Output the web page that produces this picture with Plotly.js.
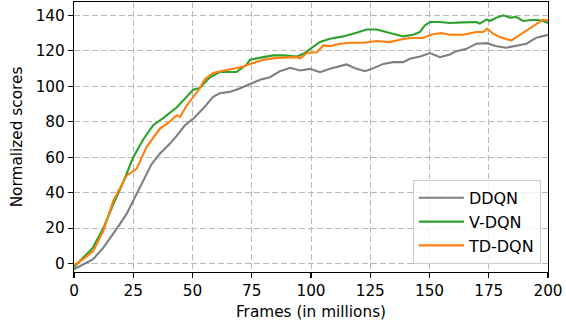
<!DOCTYPE html>
<html>
<head>
<meta charset="utf-8">
<script src="https://cdn.plot.ly/plotly-3.0.1.min.js"></script>
<style>html,body{margin:0;padding:0;background:#fff;}#chart{width:566px;height:323px;}</style>
</head>
<body>
<div id="chart"></div>
<script>
const seriesNames = ["DDQN", "V-DQN", "TD-DQN"];

const ddqnX = [0,8.1,12.4,16.6,18.7,22.2,25,29.2,32.7,36.2,40.4,43.3,46.8,50.3,54.5,58.7,61.5,65.7,69.9,74.3,78.5,82.7,86.9,91.2,95.4,99.6,103.8,108,112.2,115,119.2,122.8,125.6,130.5,134.7,138.9,141.7,146,150.2,154.4,158.6,161.4,165.6,169.8,174.1,178.3,182.4,186.7,190.9,195.1,200];
const ddqnY = [-3.2,2.5,9,16.6,21,28,35.5,47,56,62,67.5,72,78,81.7,87.4,94,96,96.8,98.7,101.3,103.6,105.1,108.5,110.4,108.9,109.8,107.9,109.8,111.1,112.3,109.8,108.5,109.8,112.6,113.6,113.6,115.5,116.8,118.7,116.4,117.9,119.8,121.1,124,124.3,122.5,121.7,123,124,127.4,129];

const vdqnX = [0,4,8,12.4,16.6,20.8,25,29.2,33.4,37.6,43.3,47.5,50.3,53,57.3,61.5,64.3,68.5,72.7,74.3,79.9,84.1,88.3,94,96.8,100.3,103.8,108,113.6,119.2,123.5,127.7,131.9,136.1,138.9,143.1,146,148,150.2,154.4,158.6,164.2,169.8,171.2,174.1,175.4,178.3,181.1,183.9,186.7,189.5,192.3,195.1,197.9,200];
const vdqnY = [-2,3.4,9,20,33.6,46,60,70,78,82,88,94,98,99,105,108,108,108,112,115,116.4,117.4,117.4,116.8,118.3,121.5,125,126.8,128.1,130.2,132,132,130.6,129,128.1,129,130.6,134.3,136.2,136.2,135.7,136,136.2,135.3,137.7,136.8,138.7,140,138.7,139,136.8,137.2,137.5,136.8,135.7];

const tddqnX = [0,3.9,8.1,12.4,16.6,20.8,22.2,26.4,30.6,36.2,40.4,43.3,44.7,47.5,50.3,53,55.2,58.7,62.9,67.1,71.3,74.3,79.9,85.5,89.7,94,95.4,98.2,102.4,105.2,108,112.2,116.4,122.1,127.7,133.3,137.5,141.7,147.3,150.8,155,158.6,164.2,169.8,172.6,174.3,176.9,179.7,184.6,186.7,190.9,195.1,197.9,200];
const tddqnY = [-1,2.5,7,18.5,35.5,46,49.6,53.4,65.7,76,80,83.6,82.6,89,94,98.7,104,107.5,108.7,110,111,112.6,114.9,116,116.4,116.4,115.8,118.7,119.2,123,122.6,124,124.5,124.5,125.5,124.9,126.2,127.2,127.2,129.2,130,129,129,130.6,130.6,132.5,129.6,127.7,125.8,127.7,131.5,134.9,137.5,137.2];

const xTicks = [0,25,50,75,100,125,150,175,200];
const yTicks = [0,20,40,60,80,100,120,140];

const colors = ["#7f7f7f", "#2ca02c", "#ff7f0e"];
const xs = [ddqnX, vdqnX, tddqnX];
const ys = [ddqnY, vdqnY, tddqnY];

const traces = seriesNames.map((n, i) => ({
  x: xs[i], y: ys[i], name: n, type: "scatter", mode: "lines",
  line: {color: colors[i], width: 2.1}
}));

const font = {family: "DejaVu Sans, sans-serif", size: 15.3, color: "#000"};
const axisCommon = {
  showline: true, linecolor: "#000", linewidth: 1.1, mirror: true,
  ticks: "outside", ticklen: 5, tickwidth: 1.1, tickcolor: "#000",
  showgrid: true, gridcolor: "#b8b8b8", griddash: "6px,3px", gridwidth: 1,
  zeroline: false, tickfont: font
};

const layout = {
  width: 566, height: 323,
  margin: {l: 74, r: 18, t: 2, b: 51},
  paper_bgcolor: "#fff", plot_bgcolor: "#fff",
  font: font,
  showlegend: true,
  legend: {
    x: 0.985, y: 0.03, xanchor: "right", yanchor: "bottom",
    bgcolor: "rgba(255,255,255,0.8)", bordercolor: "#cccccc", borderwidth: 1,
    font: {family: "DejaVu Sans, sans-serif", size: 16, color: "#000"},
    itemwidth: 45, tracegroupgap: 0
  },
  xaxis: Object.assign({}, axisCommon, {
    range: [0, 200], tickmode: "array", tickvals: xTicks, ticktext: xTicks.map(String),
    title: {text: "Frames (in millions)", font: font, standoff: 6}
  }),
  yaxis: Object.assign({}, axisCommon, {
    range: [-4.75, 147.5], tickmode: "array", tickvals: yTicks, ticktext: yTicks.map(String),
    title: {text: "Normalized scores", font: font, standoff: 9}
  })
};

Plotly.newPlot("chart", traces, layout, {displayModeBar: false, staticPlot: true});
</script>
</body>
</html>
